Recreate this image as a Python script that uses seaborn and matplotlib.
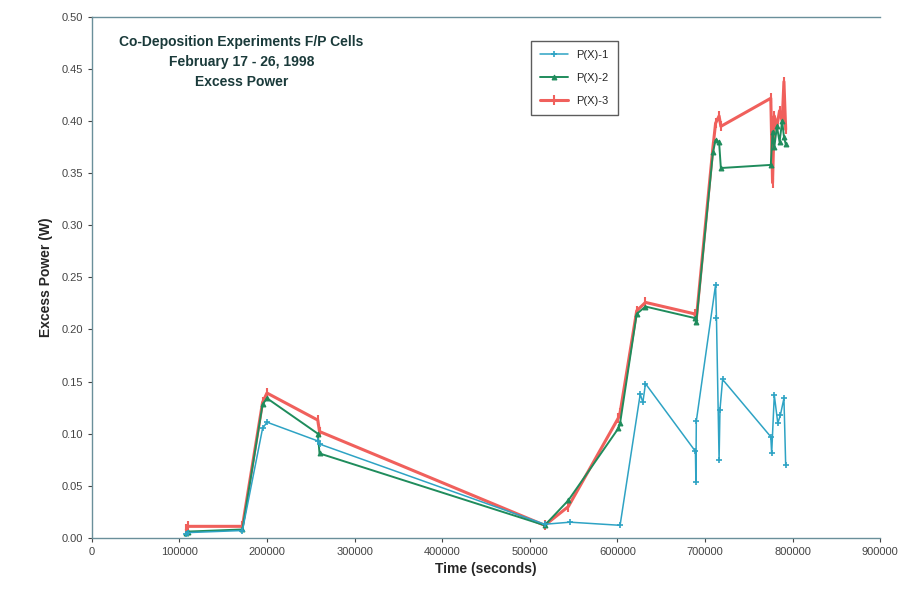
import matplotlib
matplotlib.use("Agg")
import matplotlib.pyplot as plt
import pandas as pd
import seaborn as sns

# Time points (s) for P(X)-2 and P(X)-3
t_23 = [108000, 110000, 172000, 195000, 200000, 258000, 260000, 517000, 544000,
        601000, 603000, 622000, 632000, 688000, 690000, 709000, 712000, 716000,
        718000, 775000, 777000, 779000, 782000, 785000, 788000, 790000, 792000]
px2 = [0.005, 0.006, 0.008, 0.128, 0.134, 0.100, 0.081, 0.012, 0.036,
       0.105, 0.110, 0.215, 0.222, 0.211, 0.207, 0.370, 0.382, 0.380,
       0.355, 0.358, 0.390, 0.375, 0.395, 0.380, 0.400, 0.385, 0.378]
px3 = [0.008, 0.011, 0.011, 0.130, 0.139, 0.113, 0.102, 0.012, 0.030,
       0.115, 0.120, 0.218, 0.226, 0.215, 0.210, 0.375, 0.398, 0.405,
       0.395, 0.422, 0.341, 0.405, 0.395, 0.410, 0.400, 0.438, 0.392]

# Time points (s) for P(X)-1
t_1 = [108000, 110000, 172000, 195000, 200000, 258000, 260000, 517000, 546000,
       603000, 626000, 629000, 632000, 689000, 689500, 690000, 712000, 713000,
       716000, 717000, 720000, 775000, 776000, 779000, 783000, 786000, 790000, 792000]
px1 = [0.004, 0.005, 0.007, 0.105, 0.111, 0.093, 0.090, 0.013, 0.015,
       0.012, 0.138, 0.130, 0.148, 0.083, 0.054, 0.112, 0.243, 0.211,
       0.075, 0.123, 0.152, 0.097, 0.081, 0.137, 0.110, 0.118, 0.134, 0.070]

x_ticks = [0, 100000, 200000, 300000, 400000, 500000, 600000, 700000, 800000, 900000]
y_ticks = [0.00, 0.05, 0.10, 0.15, 0.20, 0.25, 0.30, 0.35, 0.40, 0.45, 0.50]

df1 = pd.DataFrame({'time': t_1, 'power': px1})
df2 = pd.DataFrame({'time': t_23, 'power': px2})
df3 = pd.DataFrame({'time': t_23, 'power': px3})

sns.set_style("white")
plt.rcParams['font.family'] = ['Liberation Sans', 'DejaVu Sans']

fig = plt.figure(figsize=(9.17, 6.07), dpi=100)
ax = fig.add_axes([0.100, 0.114, 0.860, 0.858])

c1, c2, c3 = '#2ea3c4', '#1f8c5c', '#f0605c'

# red drawn first, green and blue over it
sns.lineplot(data=df3, x='time', y='power', sort=False, ax=ax, color=c3,
             linewidth=2.2, marker='|', markersize=7, markeredgewidth=1.5,
             markeredgecolor=c3, label='P(X)-3', zorder=2)
sns.lineplot(data=df2, x='time', y='power', sort=False, ax=ax, color=c2,
             linewidth=1.4, marker='^', markersize=3.5, markeredgecolor=c2,
             markerfacecolor=c2, label='P(X)-2', zorder=3)
sns.lineplot(data=df1, x='time', y='power', sort=False, ax=ax, color=c1,
             linewidth=1.1, marker='+', markersize=5, markeredgewidth=1.2,
             markeredgecolor=c1, label='P(X)-1', zorder=4)

ax.set_xlim(0, 900000)
ax.set_ylim(0, 0.5)
ax.set_xticks(x_ticks)
ax.set_xticklabels([str(v) for v in x_ticks])
ax.set_yticks(y_ticks)
ax.set_yticklabels([f"{v:.2f}" for v in y_ticks])
ax.tick_params(axis='both', labelsize=8, colors='#444444', length=3, direction='out')
ax.tick_params(left=True, bottom=True)

for s in ['left', 'bottom', 'top']:
    ax.spines[s].set_color('#6a8f9a')
    ax.spines[s].set_linewidth(1.0)
ax.spines['right'].set_visible(False)

ax.set_xlabel("Time (seconds)", fontsize=10, fontweight='bold', labelpad=4)
ax.set_ylabel("Excess Power (W)", fontsize=10, fontweight='bold', labelpad=6)

ax.text(0.19, 0.965, "Co-Deposition Experiments F/P Cells\nFebruary 17 - 26, 1998\nExcess Power",
        transform=ax.transAxes, ha='center', va='top', fontsize=10,
        fontweight='bold', linespacing=1.55, color='#1a3a3a')

handles, labels = ax.get_legend_handles_labels()
order = [2, 1, 0]
leg = ax.legend([handles[i] for i in order], [labels[i] for i in order],
                loc='upper left', bbox_to_anchor=(0.55, 0.965), fontsize=8,
                frameon=True, fancybox=False, edgecolor='#333333',
                handlelength=2.5, borderpad=0.8, labelspacing=1.2)
leg.get_frame().set_linewidth(1.0)

fig.savefig('out.png', dpi=100)
